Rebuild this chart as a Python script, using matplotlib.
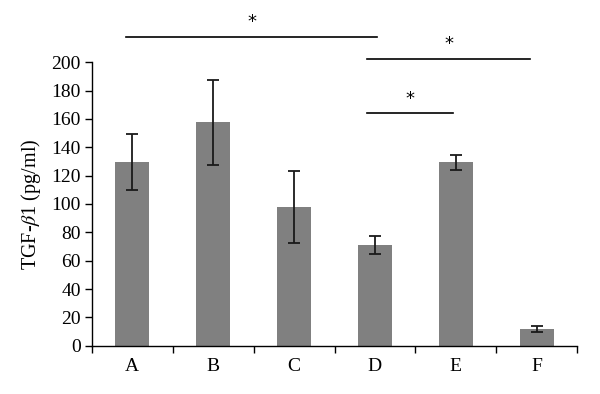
import numpy as np
import matplotlib
matplotlib.use("Agg")
import matplotlib.pyplot as plt

groups = ["A", "B", "C", "D", "E", "F"]
tgf_mean = [129.4, 157.6, 98.0, 70.9, 129.4, 11.8]
tgf_err = [19.7, 30.0, 25.2, 6.5, 5.2, 2.4]

# significance brackets: (from group, to group)
sig_pairs = [("A", "D"), ("D", "F"), ("D", "E")]

plt.rcParams['font.family'] = ['Liberation Serif', 'DejaVu Serif']
plt.rcParams['mathtext.fontset'] = 'stix'

fig = plt.figure(figsize=(6, 3.94), dpi=100)
ax = fig.add_axes([0.153, 0.1226, 0.809, 0.7194])

x = np.arange(len(groups))
ax.bar(x, tgf_mean, width=0.42, color="#808080", zorder=2)
ax.errorbar(x, tgf_mean, yerr=tgf_err, fmt="none", ecolor="#1a1a1a",
            elinewidth=1.3, capsize=4, capthick=1.3, zorder=3)

ax.set_xlim(-0.5, len(groups) - 0.5)
ax.set_ylim(0, 200)
ax.set_yticks(np.arange(0, 201, 20))
ax.set_xticks(np.arange(-0.5, len(groups), 1.0))
ax.set_xticklabels([])
ax.set_xticks(x, minor=True)
ax.set_xticklabels(groups, minor=True)
ax.tick_params(axis="x", which="minor", length=0, pad=9, labelsize=14)
ax.tick_params(axis="x", which="major", direction="out", length=5, width=1)
ax.tick_params(axis="y", direction="out", length=5, width=1, labelsize=14, pad=3)

for s in ["top", "right"]:
    ax.spines[s].set_visible(False)
for s in ["left", "bottom"]:
    ax.spines[s].set_linewidth(1.0)
    ax.spines[s].set_color("black")

ax.set_ylabel(r"TGF-$\mathit{\beta}$1 (pg/ml)", fontsize=14.5, labelpad=6)

# significance lines drawn above the axes
sig_y = [218, 202.5, 164]
sig_span = [(-0.08, 3.03), (2.9, 4.92), (2.9, 3.97)]
for (g1, g2), yy, (x0, x1) in zip(sig_pairs, sig_y, sig_span):
    ax.plot([x0, x1], [yy, yy], color="black", lw=1.2, clip_on=False)
    ax.text((x0 + x1) / 2, yy + 4, "*", ha="center", va="bottom",
            fontsize=13, family="DejaVu Sans")

fig.savefig("out.png", dpi=100)
